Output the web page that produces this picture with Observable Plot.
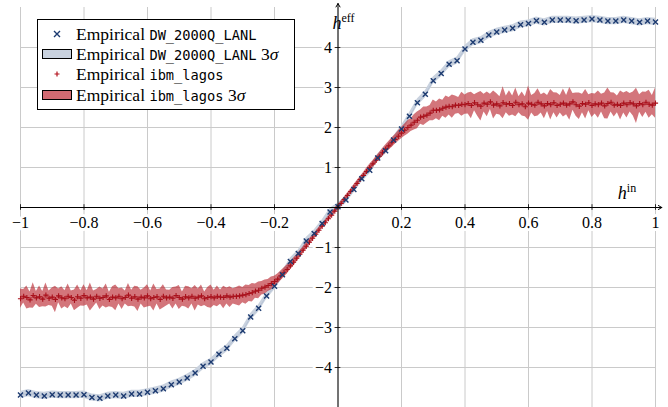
<!DOCTYPE html>
<html><head><meta charset="utf-8">
<script src="https://cdn.jsdelivr.net/npm/d3@7"></script>
<script src="https://cdn.jsdelivr.net/npm/@observablehq/plot@0.6"></script>
<style>
body{margin:0;background:#fff;}
#wrap{position:relative;width:668px;height:407px;overflow:hidden;}
#legend{position:absolute;left:37px;top:19px;width:256px;height:89px;border:1px solid #000;background:#fff;font-family:'Liberation Serif',serif;font-size:17.5px;color:#000;}
.row{position:absolute;left:0;height:20px;display:flex;align-items:center;white-space:nowrap;}
.sym{width:38px;display:flex;justify-content:center;align-items:center;}
.tt{font-family:'DejaVu Sans Mono',monospace;font-size:13.7px;}
.sw{width:28px;height:8px;border:1px solid #000;margin-left:4px;margin-right:4px;}
</style></head><body><div id="wrap"></div>
<script>
// DW_2000Q_LANL: h_in from -1 to 1, step 0.025
const blueStep = 0.025;
const blueHeff = [
 -4.69,-4.64,-4.69,-4.71,-4.68,-4.69,-4.69,-4.69,-4.68,-4.75,
 -4.77,-4.71,-4.69,-4.71,-4.66,-4.66,-4.62,-4.58,-4.53,-4.43,
 -4.36,-4.26,-4.14,-3.97,-3.86,-3.67,-3.52,-3.28,-3.08,-2.74,
 -2.52,-2.21,-1.97,-1.68,-1.35,-1.15,-0.84,-0.65,-0.40,-0.11,
 0.02,
 0.19,0.45,0.72,0.93,1.24,1.42,1.69,1.96,2.28,2.62,
 2.83,3.17,3.35,3.58,3.67,3.96,4.13,4.18,4.31,4.39,
 4.44,4.48,4.57,4.60,4.67,4.63,4.69,4.69,4.69,4.67,
 4.69,4.71,4.69,4.66,4.66,4.69,4.66,4.63,4.66,4.64
];
const blue3Sigma = 0.09;

// ibm_lagos: h_in from -1 to 1, step 0.01
const redStep = 0.01;
const redHeff = [
 -2.28,-2.22,-2.25,-2.31,-2.20,-2.26,-2.23,-2.29,-2.19,-2.27,
 -2.24,-2.30,-2.21,-2.26,-2.28,-2.22,-2.25,-2.32,-2.23,-2.27,
 -2.20,-2.26,-2.24,-2.29,-2.22,-2.27,-2.25,-2.21,-2.30,-2.24,
 -2.26,-2.22,-2.28,-2.25,-2.19,-2.27,-2.23,-2.29,-2.24,-2.26,
 -2.21,-2.28,-2.25,-2.23,-2.30,-2.22,-2.26,-2.24,-2.27,-2.20,
 -2.25,-2.29,-2.23,-2.26,-2.22,-2.27,-2.24,-2.21,-2.28,-2.25,
 -2.23,-2.26,-2.22,-2.24,-2.25,-2.21,-2.24,-2.22,
 -2.22,-2.21,-2.19,-2.18,-2.15,-2.13,-2.09,-2.07,-2.02,-1.99,
 -1.95,-1.90,-1.85,-1.79,-1.71,-1.63,-1.55,-1.46,-1.37,-1.27,
 -1.17,-1.07,-0.97,-0.87,-0.77,-0.67,-0.57,-0.47,-0.38,-0.28,
 -0.19,-0.09,0.01,0.10,0.20,0.30,0.40,0.50,0.60,0.70,
 0.80,0.90,1.00,1.09,1.18,1.28,1.37,1.46,1.54,1.62,
 1.70,1.78,1.86,1.93,2.00,2.06,2.13,2.18,2.26,2.28,
 2.31,2.36,2.43,2.43,2.44,2.48,2.51,2.53,2.52,2.56,
 2.55,2.58,2.57,
 2.60,2.55,2.62,2.57,2.53,2.61,2.58,2.64,2.56,2.59,
 2.54,2.62,2.58,2.60,2.55,2.63,2.57,2.59,2.52,2.61,
 2.58,2.56,2.63,2.59,2.54,2.60,2.57,2.62,2.55,2.58,
 2.61,2.56,2.59,2.64,2.57,2.53,2.60,2.58,2.62,2.55,
 2.59,2.57,2.61,2.54,2.60,2.63,2.56,2.58,2.55,2.61,
 2.57,2.62,2.59,2.54,2.60,2.57,2.63,2.58,2.56,2.61
];
const red3Sigma = [
 0.24,0.17,0.29,0.20,0.32,0.16,0.27,0.19,0.30,0.18,
 0.23,0.33,0.17,0.28,0.20,0.31,0.16,0.26,0.29,0.19,
 0.27,0.18,0.35,0.20,0.17,0.28,0.21,0.30,0.18,0.26,
 0.32,0.19,0.27,0.16,0.29,0.20,0.26,0.31,0.17,0.25,
 0.28,0.19,0.34,0.18,0.26,0.29,0.20,0.17,0.27,0.21,
 0.30,0.18,0.26,0.28,0.19,0.32,0.20,0.27,0.17,0.25,
 0.29,0.19,0.26,0.18,0.28,0.20,0.26,0.19,
 0.22,0.25,0.19,0.24,0.20,0.23,0.18,0.21,0.17,0.18,0.15,0.16,0.13,
 0.13,0.12,0.12,0.11,0.10,0.10,0.09,0.09,0.08,0.08,
 0.08,0.07,0.07,0.07,0.06,0.06,0.06,0.06,0.06,0.06,
 0.06,0.06,0.06,0.06,0.07,0.07,0.07,0.07,0.08,0.08,
 0.08,0.09,0.09,0.10,0.10,0.11,0.12,0.12,0.13,0.14,
 0.15,0.17,0.16,0.19,0.21,0.18,0.23,0.20,0.19,0.26,
 0.21,0.27,0.20,0.28,0.22,0.29,0.23,0.20,0.30,0.24,
 0.26,0.33,0.20,0.29,0.37,0.22,0.31,0.19,0.35,0.26,
 0.23,0.40,0.21,0.32,0.24,0.36,0.20,0.30,0.25,0.43,
 0.22,0.29,0.34,0.23,0.32,0.20,0.38,0.25,0.31,0.22,
 0.35,0.24,0.41,0.21,0.29,0.33,0.23,0.37,0.20,0.30,
 0.25,0.34,0.22,0.32,0.39,0.24,0.30,0.21,0.36,0.25,
 0.33,0.23,0.30,0.44,0.22,0.32,0.25,0.35,0.24,0.38
];

const xTicks = [-1,-0.8,-0.6,-0.4,-0.2,0.2,0.4,0.6,0.8,1];
const xTickLabels = ["−1","−0.8","−0.6","−0.4","−0.2","0.2","0.4","0.6","0.8","1"];
const xGrid = [-1,-0.8,-0.6,-0.4,-0.2,0,0.2,0.4,0.6,0.8,1];
const yTicks = [-4,-3,-2,-1,1,2,3,4];
const yTickLabels = ["−4","−3","−2","−1","1","2","3","4"];

const blue = blueHeff.map((v,i) => ({x: Math.round((-1 + i*blueStep)*1000)/1000, y: v}));
const red = redHeff.map((v,i) => ({x: Math.round((-1 + i*redStep)*100)/100, y: v, s: red3Sigma[i]}));

const serif = "'Liberation Serif', serif";
const chart = Plot.plot({
  width: 668, height: 407,
  marginLeft: 20, marginRight: 13, marginTop: 7, marginBottom: 0,
  style: {background: "white", fontFamily: serif, fontSize: "16px", overflow: "visible"},
  x: {domain: [-1, 1], axis: null},
  y: {domain: [-5, 5], axis: null},
  marks: [
    Plot.ruleX(xGrid, {stroke: "#cacaca", strokeWidth: 1}),
    Plot.ruleY(yTicks, {stroke: "#cacaca", strokeWidth: 1}),
    Plot.areaY(blue, {x: "x", y1: d => d.y - blue3Sigma, y2: d => d.y + blue3Sigma, fill: "#c9d2df"}),
    Plot.line(blue, {x: "x", y: "y", stroke: "#b3bfd2", strokeWidth: 0.8}),
    Plot.areaY(red, {x: "x", y1: d => d.y - d.s, y2: d => d.y + d.s, fill: "#b8202a", fillOpacity: 0.62}),
    Plot.line(red, {x: "x", y: "y", stroke: "#b3121d", strokeWidth: 0.9, strokeOpacity: 0.7}),
    Plot.dot(red, {x: "x", y: "y", symbol: "plus", r: 1.8, stroke: "#a8101b", strokeWidth: 1.1}),
    Plot.dot(blue, {x: "x", y: "y", symbol: "times", r: 2.4, stroke: "#1c3a70", strokeWidth: 1.4}),
    Plot.arrow([0], {x1: -1, y1: 0, x2: 1.02, y2: 0, stroke: "black", strokeWidth: 1, headLength: 6}),
    Plot.arrow([0], {x1: 0, y1: -5, x2: 0, y2: 5.1, stroke: "black", strokeWidth: 1, headLength: 6}),
    Plot.ruleX(xTicks, {y1: -0.07, y2: 0.07, stroke: "black", strokeWidth: 0.8}),
    Plot.ruleY(yTicks, {x1: -0.009, x2: 0.009, stroke: "black", strokeWidth: 0.8}),
    Plot.text(xTicks, {x: d => d, y: 0, dy: 15, text: (d,i) => xTickLabels[i], fill: "black", stroke: "white", strokeWidth: 6, fontSize: 16, fontFamily: serif}),
    Plot.text(yTicks, {x: 0, y: d => d, dx: -6, text: (d,i) => yTickLabels[i], textAnchor: "end", fill: "black", stroke: "white", strokeWidth: 6, fontSize: 16, fontFamily: serif})
  ]
});

const wrap = document.getElementById("wrap");
wrap.appendChild(chart);
const sx = chart.scale("x"), sy = chart.scale("y");
const svg = d3.select(chart);
function axisLabel(x, y, main, sup) {
  const t = svg.append("text").attr("x", x).attr("y", y).attr("font-family", serif).attr("font-size", 18).attr("fill", "black");
  t.append("tspan").attr("font-style", "italic").text(main);
  t.append("tspan").attr("font-size", 12).attr("dy", -7).text(sup);
}
axisLabel(sx.apply(1) - 28, sy.apply(0) - 8, "h", "in");
axisLabel(sx.apply(0) + 6, sy.apply(5) + 22, "h", "eff");

// legend
const legend = document.createElement("div");
legend.id = "legend";
const rows = [
  {top: 4, sym: `<svg width="10" height="10"><path d="M2,2L8,8M8,2L2,8" stroke="#1c3a70" stroke-width="1.4"/></svg>`, label: `Empirical <span class="tt">DW_2000Q_LANL</span>`},
  {top: 24, sw: "#c9d2df", label: `Empirical <span class="tt">DW_2000Q_LANL</span> 3<i>σ</i>`},
  {top: 44, sym: `<svg width="6" height="6"><path d="M3,0.5V5.5M0.5,3H5.5" stroke="#b3121d" stroke-width="1.2"/></svg>`, label: `Empirical <span class="tt">ibm_lagos</span>`},
  {top: 65, sw: "#d26a72", label: `Empirical <span class="tt">ibm_lagos</span> 3<i>σ</i>`}
];
for (const r of rows) {
  const row = document.createElement("div");
  row.className = "row";
  row.style.top = r.top + "px";
  const symHtml = r.sw ? `<div class="sw" style="background:${r.sw}"></div>` : `<div class="sym">${r.sym}</div>`;
  row.innerHTML = symHtml + `<span>${r.label}</span>`;
  legend.appendChild(row);
}
wrap.appendChild(legend);
</script></body></html>
